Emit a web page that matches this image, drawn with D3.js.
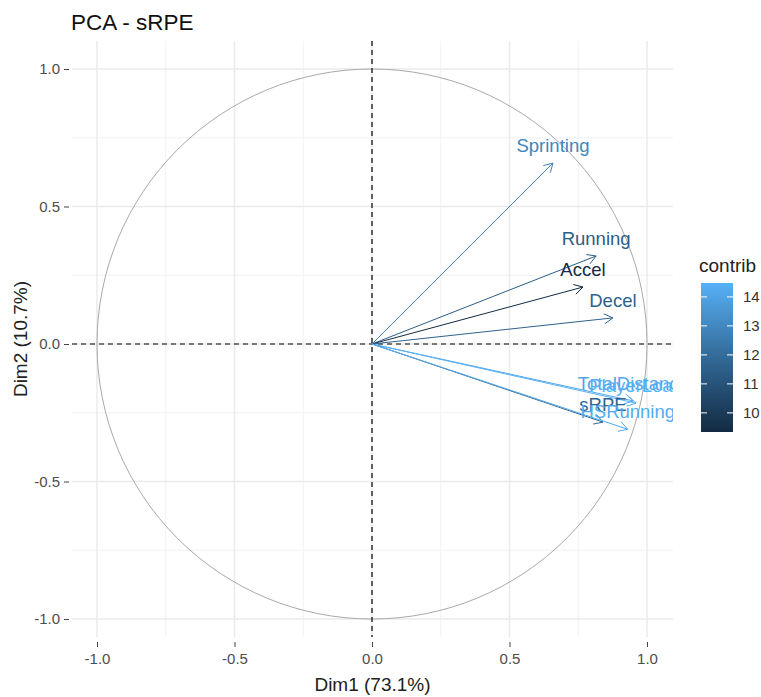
<!DOCTYPE html>
<meta charset="utf-8" />
<script src="https://d3js.org/d3.v7.min.js"></script>
<style>
    body { margin: 0; background: #fff; }
    text { font-family: 'Liberation Sans', Arial, sans-serif; }
</style>
<div id="my_dataviz"></div>

<script>
    // variables and their coordinates on the first two dimensions
    const vars = ['Sprinting', 'Running', 'Accel', 'Decel', 'TotalDistance', 'PlayerLoad', 'sRPE', 'HSRunning']
    const dim1 = [0.658, 0.815, 0.767, 0.876, 0.95, 0.96, 0.84, 0.93]
    const dim2 = [0.658, 0.32, 0.207, 0.095, -0.207, -0.215, -0.284, -0.31]
    const contrib = [12.9, 11.4, 9.35, 11.6, 14.1, 14.48, 11.7, 14.3]

    const xTicks = [-1.0, -0.5, 0.0, 0.5, 1.0]
    const yTicks = [-1.0, -0.5, 0.0, 0.5, 1.0]
    const minorTicks = [-0.75, -0.25, 0.25, 0.75]
    const legendTicks = [10, 11, 12, 13, 14]
    const contribRange = [9.34, 14.48]

    const W = 761, H = 697
    const panel = { left: 72, right: 673, top: 41, bottom: 637 }

    const svg = d3.select('#my_dataviz').append('svg')
        .attr('width', W).attr('height', H)

    const x = d3.scaleLinear().domain([-1, 1]).range([97, 647])
    const y = d3.scaleLinear().domain([-1, 1]).range([619, 69])
    const color = d3.scaleLinear().domain(contribRange)
        .range(['#132B43', '#56B1F7']).interpolate(d3.interpolateLab)

    // grid
    const grid = svg.append('g')
    grid.selectAll('.minx').data(minorTicks).join('line')
        .attr('x1', d => x(d)).attr('x2', d => x(d))
        .attr('y1', panel.top).attr('y2', panel.bottom)
        .attr('stroke', '#f2f2f2').attr('stroke-width', 1)
    grid.selectAll('.miny').data(minorTicks).join('line')
        .attr('y1', d => y(d)).attr('y2', d => y(d))
        .attr('x1', panel.left).attr('x2', panel.right)
        .attr('stroke', '#f2f2f2').attr('stroke-width', 1)
    grid.selectAll('.majx').data(xTicks).join('line')
        .attr('x1', d => x(d)).attr('x2', d => x(d))
        .attr('y1', panel.top).attr('y2', panel.bottom)
        .attr('stroke', '#ebebeb').attr('stroke-width', 1.5)
    grid.selectAll('.majy').data(yTicks).join('line')
        .attr('y1', d => y(d)).attr('y2', d => y(d))
        .attr('x1', panel.left).attr('x2', panel.right)
        .attr('stroke', '#ebebeb').attr('stroke-width', 1.5)

    // axes
    const xAxis = svg.append('g')
        .attr('transform', `translate(0,${panel.bottom + 5})`)
        .call(d3.axisBottom(x).tickValues(xTicks).tickFormat(d3.format('.1f')).tickSize(5).tickPadding(6))
    const yAxis = svg.append('g')
        .attr('transform', `translate(${panel.left - 3},0)`)
        .call(d3.axisLeft(y).tickValues(yTicks).tickFormat(d3.format('.1f')).tickSize(5).tickPadding(4))
    for (const a of [xAxis, yAxis]) {
        a.select('.domain').remove()
        a.selectAll('line').attr('stroke', '#444')
        a.selectAll('text').attr('fill', '#4d4d4d').attr('font-size', '15px')
            .style('font-family', "'Liberation Sans', Arial, sans-serif")
    }
    // replace the minus sign with a hyphen like the R output
    svg.selectAll('.tick text').text(d => d3.format('.1f')(d).replace('−', '-'))

    // clip region for the panel
    svg.append('clipPath').attr('id', 'clip').append('rect')
        .attr('x', panel.left).attr('y', panel.top)
        .attr('width', panel.right - panel.left).attr('height', panel.bottom - panel.top)
    const plot = svg.append('g').attr('clip-path', 'url(#clip)')

    // correlation circle
    plot.append('circle')
        .attr('cx', x(0)).attr('cy', y(0)).attr('r', x(1) - x(0))
        .attr('fill', 'none').attr('stroke', '#a9a9a9').attr('stroke-width', 1)

    // dashed reference lines
    plot.append('line')
        .attr('x1', x(0)).attr('x2', x(0)).attr('y1', panel.top).attr('y2', panel.bottom)
        .attr('stroke', '#000').attr('stroke-width', 1.2).attr('stroke-dasharray', '5,4')
    plot.append('line')
        .attr('y1', y(0)).attr('y2', y(0)).attr('x1', panel.left).attr('x2', panel.right)
        .attr('stroke', '#000').attr('stroke-width', 1.2).attr('stroke-dasharray', '5,4')

    const data = vars.map((v, i) => ({ name: v, x: dim1[i], y: dim2[i], c: contrib[i] }))

    // arrows
    const arrows = plot.selectAll('.arrow').data(data).join('g').attr('class', 'arrow')
    arrows.append('line')
        .attr('x1', x(0)).attr('y1', y(0))
        .attr('x2', d => x(d.x)).attr('y2', d => y(d.y))
        .attr('stroke', d => color(d.c)).attr('stroke-width', 1)
    arrows.append('path')
        .attr('d', d => {
            const ex = x(d.x), ey = y(d.y)
            const ang = Math.atan2(ey - y(0), ex - x(0))
            const len = 10, spread = Math.PI / 6
            const p1 = [ex - len * Math.cos(ang - spread), ey - len * Math.sin(ang - spread)]
            const p2 = [ex - len * Math.cos(ang + spread), ey - len * Math.sin(ang + spread)]
            return `M${p1}L${ex},${ey}L${p2}`
        })
        .attr('fill', 'none').attr('stroke', d => color(d.c)).attr('stroke-width', 1)

    // labels
    plot.selectAll('.lab').data(data).join('text')
        .attr('x', d => x(d.x)).attr('y', d => y(d.y) - 11)
        .attr('text-anchor', 'middle')
        .attr('font-size', '18.5px')
        .attr('fill', d => color(d.c))
        .text(d => d.name)

    // title and axis titles
    svg.append('text').attr('x', 71).attr('y', 30)
        .attr('font-size', '22.5px').attr('fill', '#111').text('PCA - sRPE')
    svg.append('text').attr('x', (panel.left + panel.right) / 2).attr('y', 691)
        .attr('text-anchor', 'middle').attr('font-size', '19px').attr('fill', '#222')
        .text('Dim1 (73.1%)')
    svg.append('text')
        .attr('transform', `translate(27,${(panel.top + panel.bottom) / 2}) rotate(-90)`)
        .attr('text-anchor', 'middle').attr('font-size', '19px').attr('fill', '#222')
        .text('Dim2 (10.7%)')

    // colour legend
    const lg = { x: 701, w: 32, top: 283, bottom: 432 }
    const ly = d3.scaleLinear().domain(contribRange).range([lg.bottom, lg.top])
    const defs = svg.append('defs')
    const grad = defs.append('linearGradient').attr('id', 'grad')
        .attr('x1', 0).attr('y1', 1).attr('x2', 0).attr('y2', 0)
    d3.range(0, 1.0001, 0.1).forEach(t => {
        grad.append('stop').attr('offset', t)
            .attr('stop-color', color(contribRange[0] + t * (contribRange[1] - contribRange[0])))
    })
    svg.append('rect').attr('x', lg.x).attr('y', lg.top)
        .attr('width', lg.w).attr('height', lg.bottom - lg.top)
        .attr('fill', 'url(#grad)')
    const lt = svg.append('g')
    lt.selectAll('.tl').data(legendTicks).join('line')
        .attr('x1', lg.x).attr('x2', lg.x + 6).attr('y1', d => ly(d)).attr('y2', d => ly(d))
        .attr('stroke', '#fff').attr('stroke-width', 1)
    lt.selectAll('.tr').data(legendTicks).join('line')
        .attr('x1', lg.x + lg.w - 6).attr('x2', lg.x + lg.w).attr('y1', d => ly(d)).attr('y2', d => ly(d))
        .attr('stroke', '#fff').attr('stroke-width', 1)
    lt.selectAll('text').data(legendTicks).join('text')
        .attr('x', lg.x + lg.w + 10).attr('y', d => ly(d) + 5)
        .attr('font-size', '15px').attr('fill', '#333').text(d => d)
    svg.append('text').attr('x', 699).attr('y', 272)
        .attr('font-size', '19px').attr('fill', '#222').text('contrib')
</script>
